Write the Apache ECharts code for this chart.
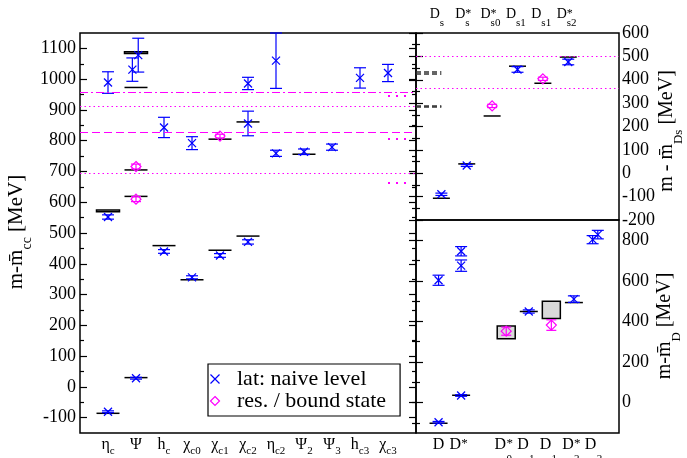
<!DOCTYPE html>
<html>
<head>
<meta charset="utf-8">
<script src="https://cdn.jsdelivr.net/npm/echarts@6/dist/echarts.min.js"></script>
<style>
  html, body { margin: 0; padding: 0; background: #fff; }
  #chart { width: 687px; height: 458px; }
</style>
</head>
<body>
<div id="chart"></div>
<script>
// ---- charmonium panel (left) ----
const ccBase = ['η', 'Ψ', 'h', 'χ', 'χ', 'χ', 'η', 'Ψ', 'Ψ', 'h', 'χ'];
const ccSub = ['c', '', 'c', 'c0', 'c1', 'c2', 'c2', '2', '3', 'c3', 'c3'];
const ccTicks = [-100, 0, 100, 200, 300, 400, 500, 600, 700, 800, 900, 1000, 1100];
const ccMinor = [-50, 50, 150, 250, 350, 450, 550, 650, 750, 850, 950, 1050];
// [category, value, error]
const ccLat = [
  [1, -81, 3], [1, 552, 7], [1, 989, 35],
  [2, 28, 3], [1.87, 1031, 38], [2.08, 1078, 55],
  [3, 440, 6], [3, 843, 33],
  [4, 356, 5], [4, 792, 21],
  [5, 427, 6],
  [6, 471, 7], [6, 856, 40], [6, 986, 20],
  [7, 759, 10], [7, 1060, 90],
  [8, 764, 9], [9, 779, 10], [10, 1004, 33], [11, 1020, 28]
];
const ccRes = [[2, 610, 8], [2, 716, 8], [5, 815, 6]];
// [category, value, half band]
const ccExp = [
  [1, -86, 0], [1, 572, 3],
  [2, 30, 0], [2, 619, 0], [2, 705, 0], [2, 973, 0], [2, 1086, 3],
  [3, 459, 0], [4, 348, 0], [5, 444, 0], [5, 805, 0], [6, 490, 0], [6, 861, 0], [8, 756, 0]
];
const ccThrDashDot = [957];
const ccThrDotted = [912, 694];
const ccThrDashed = [826];
const ccThrShort = [947, 805, 663];

// ---- Ds panel (top right) ----
const dsX = [1, 2, 3, 4, 5, 6];
const dsSup = ['', '*', '*', '', '', '*'];
const dsSub = ['s', 's', 's0', 's1', 's1', 's2'];
const dsTicks = [-200, -100, 0, 100, 200, 300, 400, 500, 600];
const dsMinor = [-150, -50, 50, 150, 250, 350, 450, 550];
const dsLat = [[1, -90, 5], [2, 33, 4], [4, 444, 12], [6, 476, 12]];
const dsRes = [[3, 288, 7], [5, 404, 7]];
const dsExp = [[1, -107, 0], [2, 40, 0], [3, 245, 0], [4, 458, 0], [5, 385, 0], [6, 497, 0]];
const dsThrDotted = [499, 365];
const dsThrDashed = [433, 427, 290, 285];

// ---- D panel (bottom right) ----
const dX = [1, 2, 4, 5, 6, 7, 8];
const dSup = ['', '*', '*', '', '', '*', ''];
const dSub = ['', '', '0', '1', '1', '2', '2'];
const dTicks = [0, 200, 400, 600, 800];
const dMinor = [-100, 100, 300, 500, 700];
const dLat = [
  [1, -97, 4], [1, 603, 25], [2, 35, 4], [2, 675, 28], [2, 746, 23],
  [5, 449, 8], [7, 510, 16], [7.83, 803, 20], [8.06, 828, 21]
];
const dRes = [[4, 352, 20], [6, 382, 26]];
const dExp = [[1, -102, 0], [2, 36, 0], [4, 346, 31], [5, 449, 0], [6, 457, 43], [7, 493, 0]];

const FONT = 'Liberation Serif';
const BLUE = '#0000ff';
const MAG = '#ff00ff';

function errBar(color, mark, cap) {
  return function (params, api) {
    const x = api.value(0), y = api.value(1), e = api.value(2);
    const p = api.coord([x, y]);
    const hi = api.coord([x, y + e])[1];
    const lo = api.coord([x, y - e])[1];
    const st = { stroke: color, lineWidth: 1.2, fill: 'none' };
    const kids = [
      { type: 'line', shape: { x1: p[0], y1: hi, x2: p[0], y2: lo }, style: st },
      { type: 'line', shape: { x1: p[0] - cap, y1: hi, x2: p[0] + cap, y2: hi }, style: st },
      { type: 'line', shape: { x1: p[0] - cap, y1: lo, x2: p[0] + cap, y2: lo }, style: st }
    ];
    if (mark === 'x') {
      kids.push(
        { type: 'line', shape: { x1: p[0] - 4, y1: p[1] - 4, x2: p[0] + 4, y2: p[1] + 4 }, style: st },
        { type: 'line', shape: { x1: p[0] - 4, y1: p[1] + 4, x2: p[0] + 4, y2: p[1] - 4 }, style: st }
      );
    } else {
      kids.push({
        type: 'polygon',
        shape: { points: [[p[0], p[1] - 5], [p[0] + 5, p[1]], [p[0], p[1] + 5], [p[0] - 5, p[1]]] },
        style: st
      });
    }
    return { type: 'group', children: kids };
  };
}

function expLine(hw) {
  return function (params, api) {
    const x = api.value(0), y = api.value(1), h = api.value(2);
    const p = api.coord([x, y]);
    if (!h) {
      return { type: 'line', shape: { x1: p[0] - hw, y1: p[1], x2: p[0] + hw, y2: p[1] },
               style: { stroke: '#000', lineWidth: 1.5 } };
    }
    const t = api.coord([x, y + h])[1], b = api.coord([x, y - h])[1];
    return { type: 'rect', shape: { x: p[0] - hw, y: t, width: 2 * hw, height: b - t },
             style: { stroke: '#000', lineWidth: 1.5, fill: '#d9d9d9' } };
  };
}

function yAxes(grid, min, max, major, minor, side) {
  const other = side === 'left' ? 'right' : 'left';
  const tick = (vals, len) => ({ show: true, inside: true, length: len, customValues: vals,
                                 lineStyle: { color: '#000', width: 1.2 } });
  const base = { type: 'value', gridIndex: grid, min: min, max: max,
                 splitLine: { show: false }, axisLine: { show: false } };
  return [
    Object.assign({}, base, { position: side, axisTick: tick(major, 7),
      axisLabel: { show: true, customValues: major, color: '#000', fontSize: 18,
                   fontFamily: FONT, margin: side === 'left' ? 4 : 3,
                   formatter: v => String(v) } }),
    Object.assign({}, base, { position: side, axisTick: tick(minor, 4), axisLabel: { show: false } }),
    Object.assign({}, base, { position: other, axisTick: tick(major, 7), axisLabel: { show: false } }),
    Object.assign({}, base, { position: other, axisTick: tick(minor, 4), axisLabel: { show: false } })
  ];
}

function findIdx(arr, v) {
  return arr.findIndex(p => Math.abs(p - v) < 1e-6);
}

const dsMainPos = dsX.map(x => x - 0.256);
const dsSubPos = dsX.map(x => x - 0.06);
const dMainPos = dX.map((x, i) => (dSup[i] || dSub[i]) ? x - 0.26 : x);
const dSubPos = dX.map(x => x + 0.01);

const xBase = { type: 'value', splitLine: { show: false }, axisLine: { show: false }, axisTick: { show: false } };

const xAxes = [
  Object.assign({}, xBase, { gridIndex: 0, min: 0, max: 12, position: 'bottom',
    axisLabel: {
      customValues: ccBase.map((_, i) => i + 1), margin: 4, color: '#000',
      formatter: v => {
        const i = Math.round(v) - 1;
        return '{m|' + ccBase[i] + '}' + (ccSub[i] ? '{s|' + ccSub[i] + '}' : '');
      },
      rich: {
        m: { fontFamily: FONT, fontSize: 16, lineHeight: 20, verticalAlign: 'top', color: '#000' },
        s: { fontFamily: FONT, fontSize: 11, verticalAlign: 'bottom', color: '#000' }
      }
    } }),
  Object.assign({}, xBase, { gridIndex: 1, min: 0, max: 8, position: 'top',
    axisLabel: {
      customValues: dsMainPos, margin: 12, align: 'center', color: '#000',
      fontFamily: FONT, fontSize: 14, lineHeight: 14,
      formatter: v => 'D'
    } }),
  Object.assign({}, xBase, { gridIndex: 1, min: 0, max: 8, position: 'top',
    axisLabel: {
      customValues: dsSubPos, margin: 5, align: 'left', color: '#000',
      formatter: v => {
        const i = findIdx(dsSubPos, v);
        return '{p|' + (dsSup[i] || ' ') + '}\n{b|' + (dsSub[i] || ' ') + '}';
      },
      rich: {
        p: { fontFamily: FONT, fontSize: 12, lineHeight: 9.5, color: '#000', align: 'left' },
        b: { fontFamily: FONT, fontSize: 11, lineHeight: 9.5, color: '#000', align: 'left' }
      }
    } }),
  Object.assign({}, xBase, { gridIndex: 2, min: 0, max: 9, position: 'bottom',
    axisLabel: {
      customValues: dMainPos, margin: 4, align: 'center', color: '#000',
      fontFamily: FONT, fontSize: 16, lineHeight: 16,
      formatter: v => 'D'
    } }),
  Object.assign({}, xBase, { gridIndex: 2, min: 0, max: 9, position: 'bottom',
    axisLabel: {
      customValues: dSubPos, margin: 5, align: 'left', color: '#000',
      formatter: v => {
        const i = findIdx(dSubPos, v);
        return '{p|' + (dSup[i] || ' ') + '}\n{b|' + (dSub[i] || ' ') + '}';
      },
      rich: {
        p: { fontFamily: FONT, fontSize: 13, lineHeight: 11, color: '#000', align: 'left' },
        b: { fontFamily: FONT, fontSize: 11, lineHeight: 20, color: '#000', align: 'left' }
      }
    } })
];

const yList = [].concat(
  yAxes(0, -150, 1150, ccTicks, ccMinor, 'left'),
  yAxes(1, -200, 600, dsTicks, dsMinor, 'right'),
  yAxes(2, -150, 900, dTicks, dMinor, 'right')
);

const ml = (items) => ({ symbol: ['none', 'none'], silent: true, animation: false,
                         label: { show: false }, data: items });
const full = (vals, color, type) => vals.map(v => ({ yAxis: v, lineStyle: { color: color, type: type, width: 1.2 } }));
const part = (vals, x0, x1, color, type, w) => vals.map(v => [
  { coord: [x0, v], lineStyle: { color: color, type: type, width: w, opacity: 1 } },
  { coord: [x1, v], lineStyle: { color: color, type: type, width: w, opacity: 1 } }
]);

function panelSeries(xi, yi, lat, res, exp, hw, lines) {
  return [
    { type: 'custom', name: 'exp', xAxisIndex: xi, yAxisIndex: yi, z: 2,
      renderItem: expLine(hw), data: exp, encode: { x: 0, y: 1 }, markLine: ml(lines) },
    { type: 'custom', name: 'lat: naive level', xAxisIndex: xi, yAxisIndex: yi, z: 3,
      renderItem: errBar(BLUE, 'x', 6), data: lat, encode: { x: 0, y: 1 } },
    { type: 'custom', name: 'res. / bound state', xAxisIndex: xi, yAxisIndex: yi, z: 4,
      renderItem: errBar(MAG, 'd', 5), data: res, encode: { x: 0, y: 1 } }
  ];
}

const series = [].concat(
  panelSeries(0, 0, ccLat, ccRes, ccExp, 11.5, [].concat(
    full(ccThrDashDot, MAG, [8, 3, 2, 3]),
    full(ccThrDotted, MAG, [1.5, 3]),
    full(ccThrDashed, MAG, [8, 4]),
    part(ccThrShort, 11.0, 11.8, MAG, [2, 6], 2.2)
  )),
  panelSeries(1, 4, dsLat, dsRes, dsExp, 8.5, [].concat(
    full(dsThrDotted, MAG, [1.5, 3]),
    part(dsThrDashed, 0, 1, '#333', [5, 3], 1.5)
  )),
  panelSeries(3, 8, dLat, dRes, dExp, 9, [])
);

const titleRich = (fs, sfs) => ({
  a: { fontFamily: FONT, fontSize: fs, lineHeight: 28, verticalAlign: 'top', fill: '#000' },
  s: { fontFamily: FONT, fontSize: sfs, verticalAlign: 'bottom', fill: '#000' }
});

const gridBase = { show: true, borderColor: '#000', borderWidth: 1.5, backgroundColor: 'transparent',
                   containLabel: false, outerBoundsMode: 'none' };

const chart = echarts.init(document.getElementById('chart'));
chart.setOption({
  animation: false,
  backgroundColor: '#fff',
  grid: [
    Object.assign({ left: 80, top: 33, width: 336, height: 400 }, gridBase),
    Object.assign({ left: 416, top: 33, width: 203, height: 187 }, gridBase),
    Object.assign({ left: 416, top: 220, width: 203, height: 213 }, gridBase)
  ],
  xAxis: xAxes,
  yAxis: yList,
  legend: {
    left: 208, top: 364, orient: 'vertical', itemWidth: 30, itemHeight: 9, itemGap: 0,
    padding: [4, 14, 4, 0], borderColor: '#000', borderWidth: 1.2, backgroundColor: '#fff',
    selectedMode: false,
    textStyle: { fontFamily: FONT, fontSize: 22, color: '#000', lineHeight: 20, padding: [0, 0, 0, 2] },
    data: [
      { name: 'lat: naive level', icon: 'path://M0,0L10,10M10,0L0,10',
        itemStyle: { color: 'none', borderColor: BLUE, borderWidth: 1.2 } },
      { name: 'res. / bound state', icon: 'path://M5,0L10,5L5,10L0,5Z',
        itemStyle: { color: 'none', borderColor: MAG, borderWidth: 1.2 } }
    ]
  },
  graphic: [
    { type: 'text', x: 20, y: 232, rotation: Math.PI / 2,
      style: { text: '{a|m-m\u0304}{s|cc}{a| [MeV]}', rich: titleRich(21, 14),
               align: 'center', verticalAlign: 'middle' } },
    { type: 'text', x: 671, y: 131, rotation: Math.PI / 2,
      style: { text: '{a|m - m\u0304}{s|Ds}{a| [MeV]}', rich: titleRich(20, 13),
               align: 'center', verticalAlign: 'middle' } },
    { type: 'text', x: 669, y: 326, rotation: Math.PI / 2,
      style: { text: '{a|m-m\u0304}{s|D}{a| [MeV]}', rich: titleRich(20, 13),
               align: 'center', verticalAlign: 'middle' } }
  ],
  series: series
});
</script>
</body>
</html>
